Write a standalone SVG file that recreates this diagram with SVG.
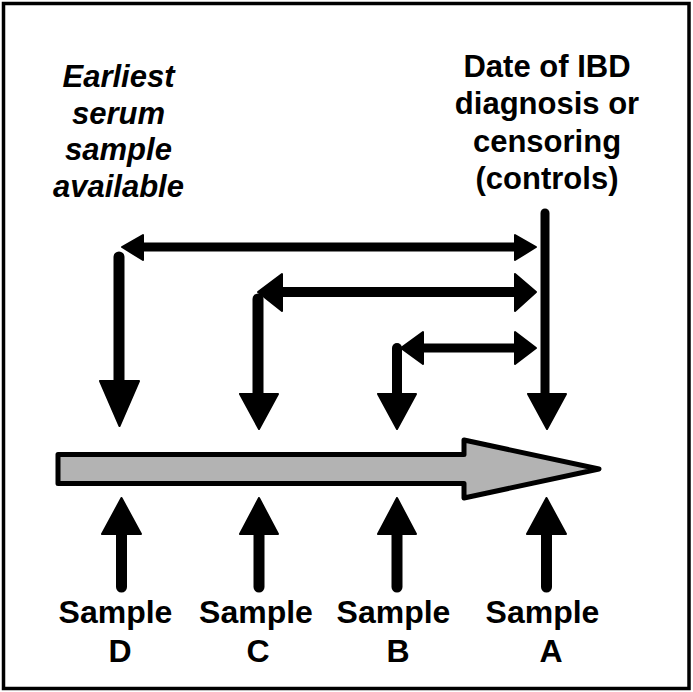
<svg xmlns="http://www.w3.org/2000/svg" width="693" height="692" viewBox="0 0 693 692">
<style>
.ln{stroke:#000;stroke-linecap:round;fill:none}
.hd{fill:#000;stroke:#000;stroke-width:2;stroke-linejoin:round}
.t{font-family:"Liberation Sans",Arial,sans-serif;font-weight:bold;font-size:31px;text-anchor:middle;fill:#000}
.it{font-style:italic}
.s{font-size:32px}
</style>
<rect x="0" y="0" width="693" height="692" fill="#fff"/>
<rect x="3.5" y="3.5" width="685.5" height="685" fill="none" stroke="#000" stroke-width="3.5"/>

<g id="timeline">
<path d="M58,454.5 H464 V440 L599,469 L464,498 V483.5 H58 Z" fill="#b3b3b3" stroke="#000" stroke-width="5" stroke-linejoin="round"/>
</g>

<g id="label-earliest">
<text class="t it" x="118.5" y="87">Earliest</text>
<text class="t it" x="118.5" y="123.5">serum</text>
<text class="t it" x="118.5" y="160">sample</text>
<text class="t it" x="118.5" y="197">available</text>
</g>

<g id="label-diagnosis">
<text class="t" x="547" y="77">Date of IBD</text>
<text class="t" x="547" y="114">diagnosis or</text>
<text class="t" x="547" y="151.5">censoring</text>
<text class="t" x="547" y="189">(controls)</text>
</g>

<g id="sample-d">
<text class="t s" x="115.5" y="623">Sample</text>
<text class="t s" x="120" y="662">D</text>
</g>
<g id="sample-c">
<text class="t s" x="256" y="623">Sample</text>
<text class="t s" x="258" y="662">C</text>
</g>
<g id="sample-b">
<text class="t s" x="393.5" y="623">Sample</text>
<text class="t s" x="398" y="662">B</text>
</g>
<g id="sample-a">
<text class="t s" x="542.5" y="623">Sample</text>
<text class="t s" x="551" y="662">A</text>
</g>

<g id="connectors">
<!-- down arrows -->
<path class="ln" d="M119,257 V382" stroke-width="11"/>
<polygon class="hd" points="100,381 139,381 119.5,426"/>
<path class="ln" d="M258,299 V395" stroke-width="11"/>
<polygon class="hd" points="240,394 278,394 259,429"/>
<path class="ln" d="M397,348 V395" stroke-width="10"/>
<polygon class="hd" points="378,394 416,394 397,429"/>
<path class="ln" d="M545,213 V395" stroke-width="9"/>
<polygon class="hd" points="528,394 566,394 547,429"/>

<!-- horizontal double arrows -->
<path class="ln" d="M140,247 H518" stroke-width="9" stroke-linecap="butt"/>
<polygon class="hd" points="122,247 143,235 143,260"/>
<polygon class="hd" points="536,247 515,235 515,260"/>
<path class="ln" d="M278,292 H518" stroke-width="10" stroke-linecap="butt"/>
<polygon class="hd" points="258,292 282,274 282,311"/>
<polygon class="hd" points="536,292 515,274 515,311"/>
<path class="ln" d="M420,348 H518" stroke-width="9" stroke-linecap="butt"/>
<polygon class="hd" points="401,348 423,332 423,364"/>
<polygon class="hd" points="536,348 515,332 515,364"/>

<!-- up arrows -->
<path class="ln" d="M121.5,532 V587" stroke-width="11"/>
<polygon class="hd" points="102,534 141,534 121.5,498"/>
<path class="ln" d="M259,532 V587" stroke-width="11"/>
<polygon class="hd" points="240,534 278,534 259,498"/>
<path class="ln" d="M397,532 V587" stroke-width="11"/>
<polygon class="hd" points="378,534 416,534 397,498"/>
<path class="ln" d="M546.5,532 V587" stroke-width="11"/>
<polygon class="hd" points="527,534 566,534 546.5,498"/>
</g>
</svg>
